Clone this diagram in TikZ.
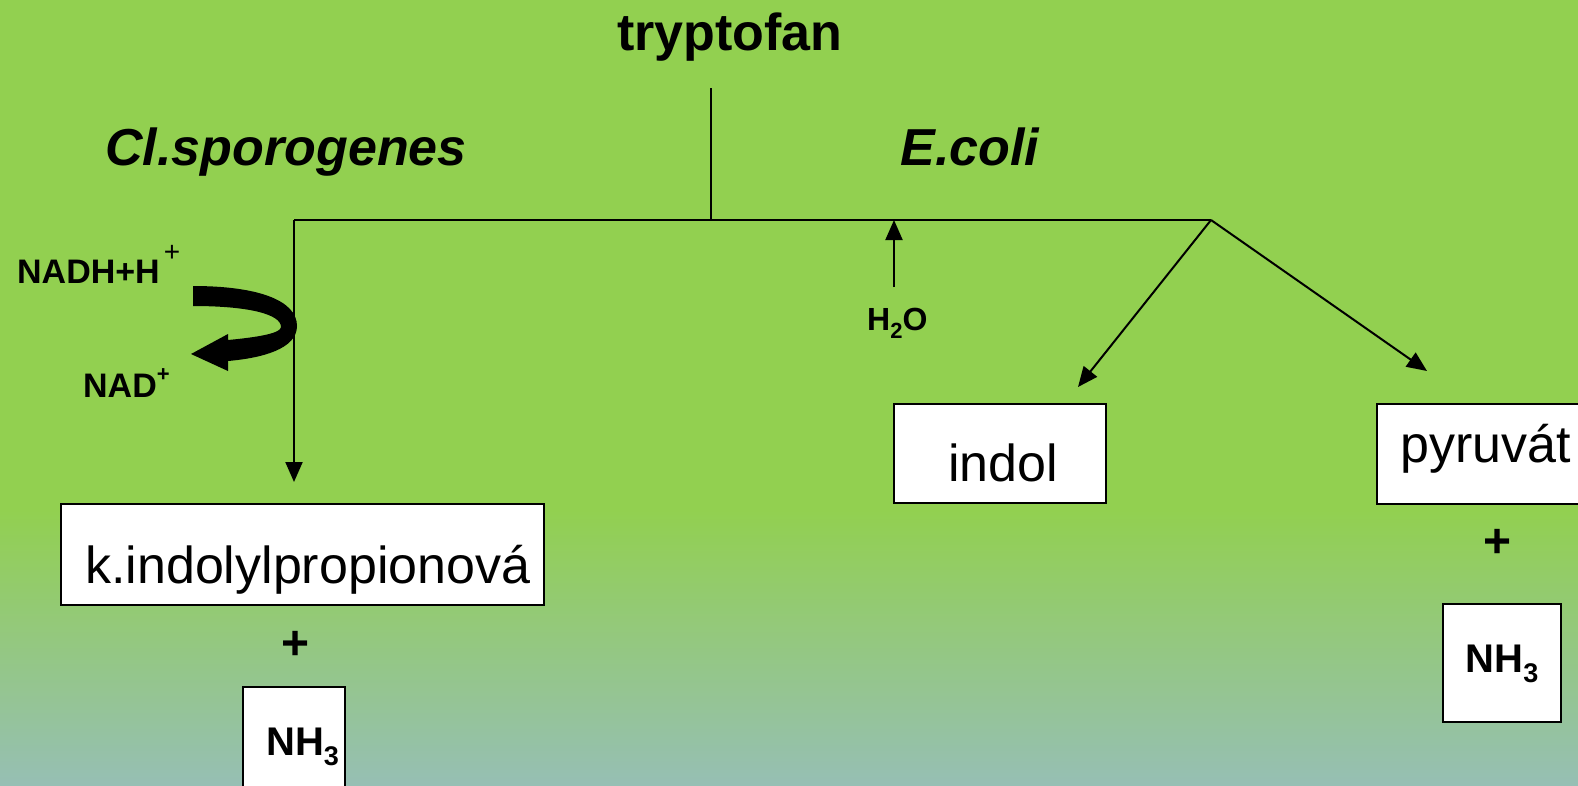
\documentclass[tikz,border=0pt]{standalone}
\usepackage{fontspec}
\setmainfont{Liberation Sans}
\usetikzlibrary{arrows.meta}
\definecolor{bggreen}{RGB}{146,208,80}
\definecolor{bgblue}{RGB}{150,191,180}
\tikzset{
  conn/.style={line width=2pt},
  arr/.style={line width=2pt,-{Triangle[length=20pt,width=17pt]}},
  box/.style={draw=black,line width=2pt,fill=white,inner sep=0pt},
  big/.style={font=\fontsize{52}{52}\selectfont},
  bigb/.style={font=\fontsize{52}{52}\selectfont\bfseries},
  bigbi/.style={font=\fontsize{52}{52}\selectfont\bfseries\itshape},
  chem/.style={font=\fontsize{34}{34}\selectfont\bfseries},
}
\begin{document}
\begin{tikzpicture}[x=1pt,y=-1pt]
\useasboundingbox (0,0) rectangle (1578,785);
% background
\fill[bggreen] (0,0) rectangle (1578,511);
\shade[top color=bggreen,bottom color=bgblue] (0,510) rectangle (1578,785);

% titles
\node[bigb,anchor=base] (tryp) at (730,50) {tryptofan};
\node[bigbi,anchor=base] (clsp) at (286,165) {Cl.sporogenes};
\node[bigbi,anchor=base] (ecoli) at (970,165) {E.coli};

% junction coordinates
\coordinate (top) at (711,88);
\coordinate (jc) at (711,220);
\coordinate (jl) at (294,220);
\coordinate (jr) at (1211,220);
\coordinate (jw) at (894,220);
\coordinate (wstart) at (894,287);
\coordinate (downend) at (294,482);
\coordinate (indend) at (1078,387);
\coordinate (pyrend) at (1427,371);

\draw[conn] (top) -- (jc);
\draw[conn] (jl) -- (jr);
\draw[arr] (jl) -- (downend);
\draw[arr] (wstart) -- (jw);
\draw[arr] (jr) -- (indend);
\draw[arr] (jr) -- (pyrend);

% NADH curved arrow
\fill[black] (193,286) .. controls (257,286) and (297,300) .. (297,326)
  .. controls (297,349) and (262,358) .. (228,361)
  -- (228,371) -- (191,354) -- (228,334) -- (228,340)
  .. controls (260,337) and (281,333) .. (281,327)
  .. controls (281,314) and (248,306) .. (193,306) -- cycle;

\node[chem,anchor=base west,inner sep=0pt] (nadh) at (17,283) {NADH+H\hspace{4pt}\raisebox{0.62em}{\fontsize{28}{28}\selectfont\mdseries +}};
\node[chem,anchor=base west,inner sep=0pt] (nad) at (83,397) {NAD\raisebox{0.45em}{\fontsize{22}{22}\selectfont\bfseries +}};
\node[font=\fontsize{32}{32}\selectfont\bfseries,anchor=base west,inner sep=0pt] (h2o) at (867,330) {H\raisebox{-0.28em}{\fontsize{22}{22}\selectfont 2}O};

% boxes
\node[box,minimum width=483pt,minimum height=101pt] (kip) at (302.5,554.5) {};
\node[big,anchor=base west,inner sep=0pt] (kipt) at (85,583) {k.indolylpropionová};
\node[box,minimum width=212pt,minimum height=99pt] (indol) at (1000,453.5) {};
\node[big,anchor=base,inner sep=0pt] (indolt) at (1003,481) {indol};
\node[box,minimum width=220pt,minimum height=100pt] (pyr) at (1487,454) {};
\node[big,anchor=base west,inner sep=0pt] (pyrt) at (1400,462) {pyruvát};

\node[font=\fontsize{48}{48}\selectfont\bfseries,inner sep=0pt] (plusl) at (296,645) {+};
\node[font=\fontsize{48}{48}\selectfont\bfseries,inner sep=0pt] (plusr) at (1497,543) {+};

\node[box,minimum width=118pt,minimum height=118pt] (nh3r) at (1502,663) {};
\node[font=\fontsize{40}{40}\selectfont\bfseries,anchor=base,inner sep=0pt] (nh3rt) at (1502,672) {NH\raisebox{-0.25em}{\fontsize{27}{27}\selectfont 3}};
\node[box,minimum width=102pt,minimum height=120pt] (nh3l) at (294,747) {};
\node[font=\fontsize{40}{40}\selectfont\bfseries,anchor=base west,inner sep=0pt] (nh3lt) at (266,755) {NH\raisebox{-0.25em}{\fontsize{27}{27}\selectfont 3}};
\end{tikzpicture}
\end{document}
